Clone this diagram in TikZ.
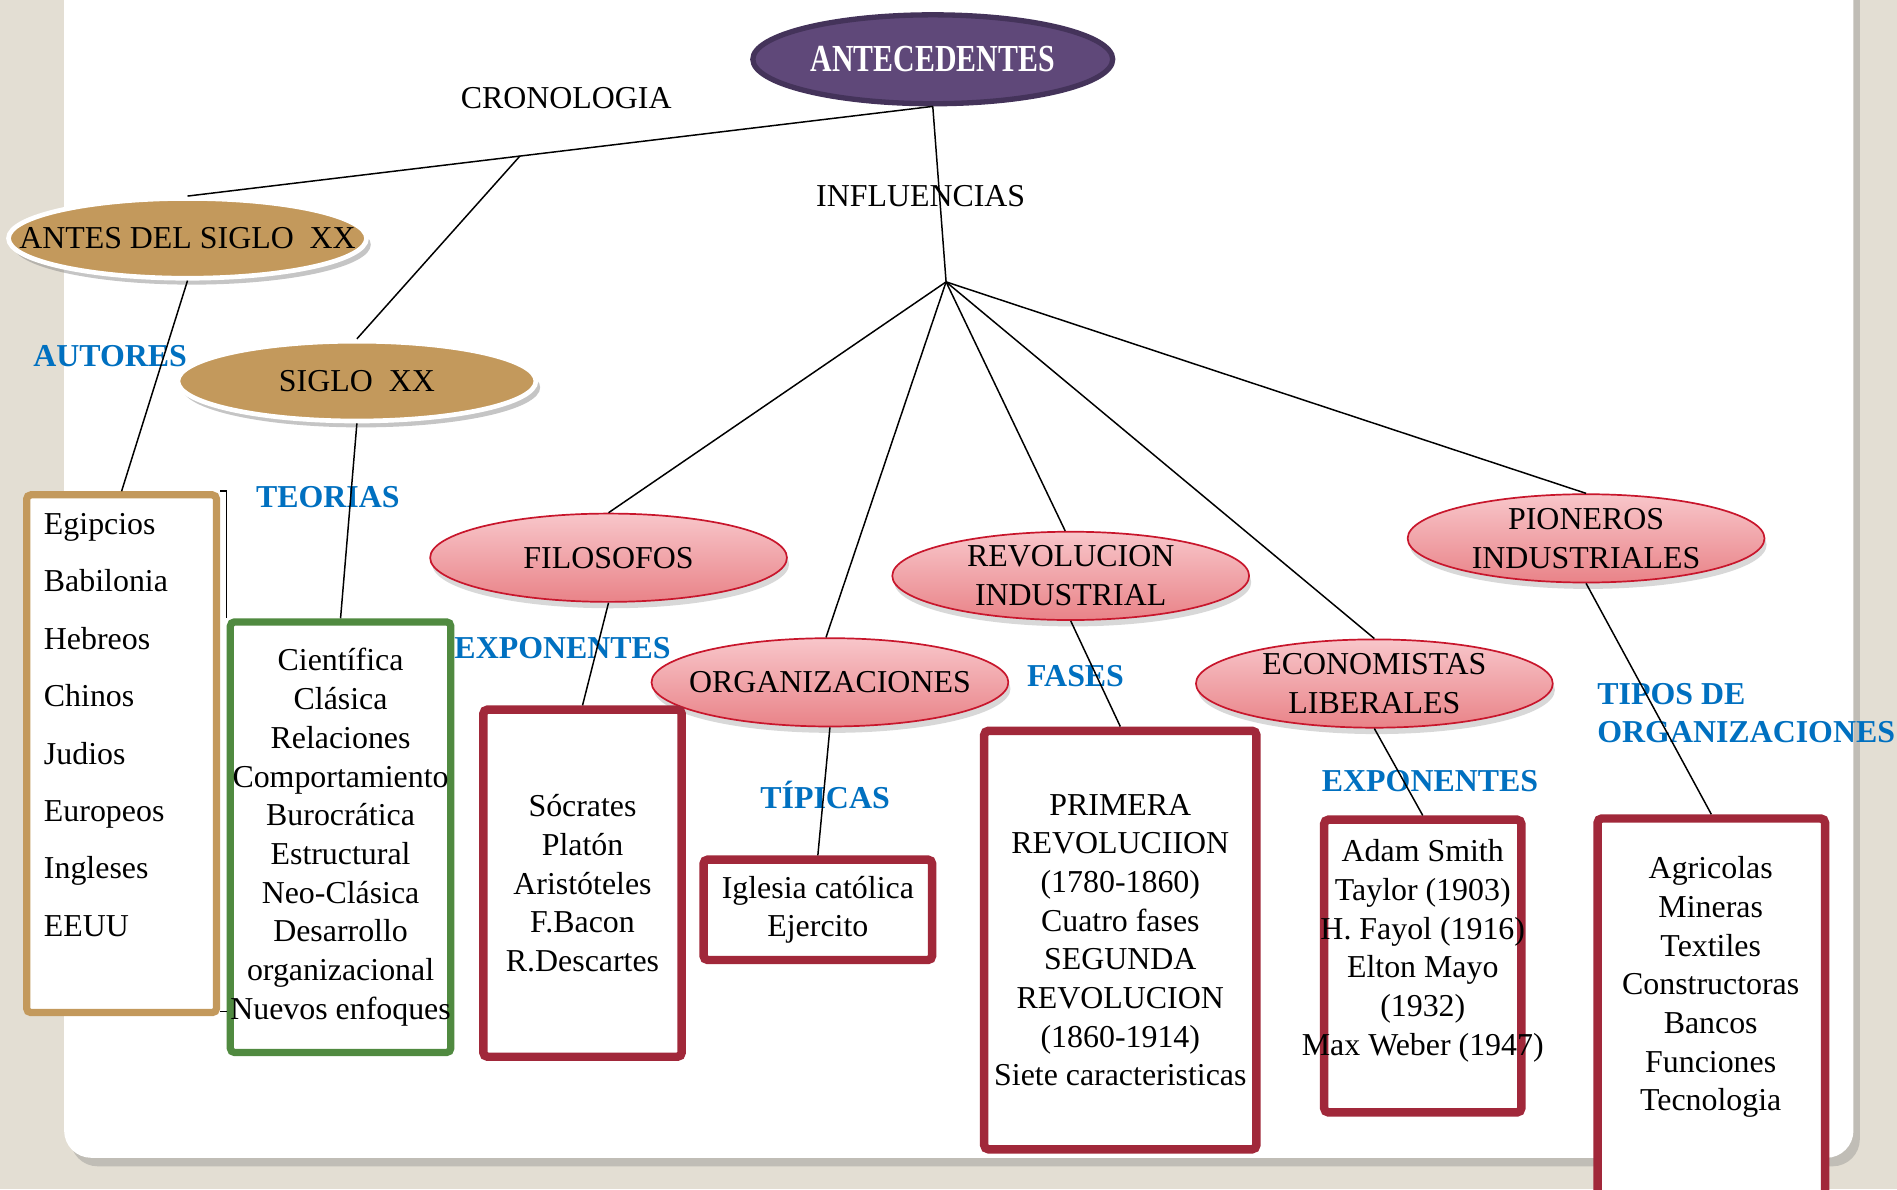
\documentclass[tikz,border=0pt]{standalone}
\usepackage{fontspec}
\setmainfont{Liberation Serif}
\newfontfamily\headfont[FakeStretch=0.78]{Liberation Serif}
\usetikzlibrary{shapes.geometric,shadows,calc,positioning}
\definecolor{fondo}{RGB}{227,222,211}
\definecolor{morado}{RGB}{95,72,121}
\definecolor{moradoborde}{RGB}{68,51,90}
\definecolor{ocre}{RGB}{195,153,92}
\definecolor{rosaA}{RGB}{248,198,202}
\definecolor{rosaB}{RGB}{233,131,136}
\definecolor{rosaborde}{RGB}{200,22,44}
\definecolor{vino}{RGB}{161,40,58}
\definecolor{verde}{RGB}{80,138,64}
\definecolor{azul}{RGB}{0,112,192}

\begin{document}
\begin{tikzpicture}[x=0.02cm,y=-0.02cm,
  every node/.style={font=\fontsize{15}{18.2}\selectfont},
  raiz/.style={ellipse,fill=morado,draw=moradoborde,line width=2.5pt,minimum width=5.95cm,minimum height=1.47cm,inner xsep=-1cm,inner ysep=-0.2cm,text=white,font=\headfont\bfseries\fontsize{18}{20}\selectfont},
  epoca/.style={ellipse,fill=ocre,draw=white,line width=2.2pt,minimum width=5.92cm,minimum height=1.32cm,inner xsep=-1cm,inner ysep=-0.2cm,drop shadow={opacity=0.45,shadow xshift=2pt,shadow yshift=-3pt}},
  tema/.style={ellipse,top color=rosaA,bottom color=rosaB,draw=rosaborde,line width=0.8pt,minimum width=5.9cm,minimum height=1.46cm,inner xsep=-1cm,inner ysep=-0.2cm,align=center,drop shadow={opacity=0.3,shadow xshift=1pt,shadow yshift=-3pt}},
  caja/.style={draw=vino,line width=0.14cm,rounded corners=2pt,fill=white,align=center,inner sep=0pt},
  enlace/.style={font=\bfseries\fontsize{15}{17.5}\selectfont,text=azul},
  conn/.style={draw=black,line width=0.7pt}]

   \useasboundingbox (0,0) rectangle (1568,983);
   \fill[fondo] (0,0) rectangle (1568,983);
   \fill[white,rounded corners=0.45cm,drop shadow={opacity=0.35,shadow xshift=3pt,shadow yshift=-4pt}] (53,-40) rectangle (1532,957);

   \node[raiz] (ant) at (771,49) {ANTECEDENTES};
   \node[epoca] (antes) at (155,197) {ANTES DEL SIGLO\ \ XX};
   \node[epoca] (siglo) at (295,315) {SIGLO\ \ XX};

   \node[tema] (fil) at (503,461) {FILOSOFOS};
   \node[tema] (org) at (686,564) {ORGANIZACIONES};
   \node[tema] (rev) at (885,476) {REVOLUCION\\INDUSTRIAL};
   \node[tema] (eco) at (1136,565) {ECONOMISTAS\\LIBERALES};
   \node[tema] (pio) at (1311,445) {PIONEROS\\INDUSTRIALES};

   \node[caja,draw=ocre,line width=0.12cm,minimum width=3.14cm,minimum height=8.56cm] (autoresCaja) at (100.5,623) {};
   \node[anchor=north west,align=left,inner sep=0pt,font=\fontsize{15}{27}\selectfont] (autoresTxt) at (36,424)
     {Egipcios\\Babilonia\\Hebreos\\Chinos\\Judios\\Europeos\\Ingleses\\EEUU};
   \node[caja,draw=verde,line width=0.12cm,minimum width=3.54cm,minimum height=7.12cm] (teoriasCaja) at (281.5,692)
     {Científica\\Clásica\\Relaciones\\Comportamiento\\Burocrática\\Estructural\\Neo-Clásica\\Desarrollo\\organizacional\\Nuevos enfoques};
   \node[caja,minimum width=3.28cm,minimum height=5.74cm] (filCaja) at (481.5,730)
     {Sócrates\\Platón\\Aristóteles\\F.Bacon\\R.Descartes};
   \node[caja,minimum width=3.78cm,minimum height=1.66cm] (tipCaja) at (676,752)
     {Iglesia católica\\Ejercito};
   \node[caja,minimum width=4.5cm,minimum height=6.92cm] (fasCaja) at (926,777)
     {PRIMERA\\REVOLUCIION\\(1780-1860)\\Cuatro fases\\SEGUNDA\\REVOLUCION\\(1860-1914)\\Siete caracteristicas};
   \node[caja,minimum width=3.26cm,minimum height=4.84cm] (expCaja) at (1176,798.5) {};
   \node[align=center] (expTxt) at (1176,786)
     {Adam Smith\\Taylor (1903)\\H. Fayol (1916)\\Elton Mayo\\(1932)\\Max Weber (1947)};
   \node[caja,minimum width=3.76cm,minimum height=6.4cm] (orgCaja) at (1414.5,836.5) {};
   \node[align=center] (orgTxt) at (1414,816)
     {Agricolas\\Mineras\\Textiles\\Constructoras\\Bancos\\Funciones\\Tecnologia};

   \node (crono) at (468,81) {CRONOLOGIA};
   \node (influ) at (761,162) {INFLUENCIAS};
   \node[enlace] (lblAutores) at (91,294) {AUTORES};
   \node[enlace] (lblTeorias) at (271,411) {TEORIAS};
   \node[enlace] (lblExpFil) at (465,536) {EXPONENTES};
   \node[enlace] (lblTipicas) at (682,657) {TÍPICAS};
   \node[enlace] (lblFases) at (889,559) {FASES};
   \node[enlace] (lblExpEco) at (1182,646) {EXPONENTES};
   \node[enlace,anchor=west,align=left,inner sep=0pt] (lblTipos) at (1320,589.5) {TIPOS DE\\ORGANIZACIONES};

   \coordinate (fan) at (782,233);
   \coordinate (split) at ($(ant.south)!0.554!(antes.north)$);
   \path[conn]
    (ant.south) edge (antes.north)
                edge (fan)
    (split) edge (siglo.north)
    (fan) edge (fil.north)
          edge (org.95)
          edge (rev.97)
          edge (eco.north)
          edge (pio.north)
    (antes.south) edge (autoresCaja.north)
    (siglo.south) edge (teoriasCaja.north)
    (fil.south) edge (filCaja.north)
    (org.south) edge (tipCaja.north)
    (rev.south) edge (fasCaja.north)
    (eco.south) edge (expCaja.north)
    (pio.south) edge (orgCaja.north);
   \draw[conn] (autoresCaja.north east) -| (teoriasCaja.north west);
   \draw[conn] ([yshift=0.08cm]autoresCaja.south east) -- ([yshift=0.08cm]autoresCaja.south east -| teoriasCaja.west);
\end{tikzpicture}
\end{document}
